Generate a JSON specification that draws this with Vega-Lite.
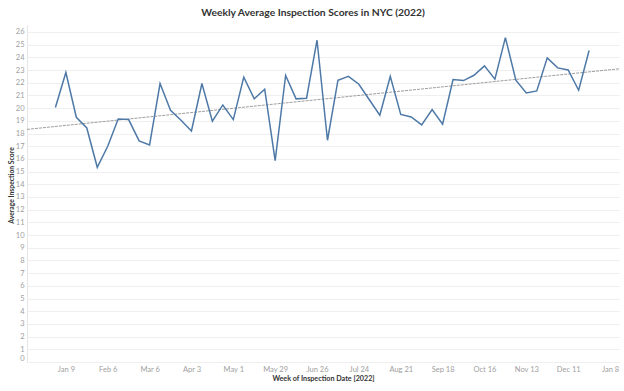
{
  "$schema": "https://vega.github.io/schema/vega-lite/v6.json",
  "width": 592,
  "height": 337,
  "autosize": {"type": "none"},
  "padding": {"left": 27, "top": 25, "right": 5, "bottom": 29},
  "background": "white",
  "title": {
    "text": "Weekly Average Inspection Scores in NYC (2022)",
    "font": "Lato",
    "fontSize": 10.3,
    "fontWeight": "bold",
    "color": "#333333",
    "anchor": "middle",
    "dx": -10,
    "offset": 7
  },
  "data": {
    "format": {"parse": {"date": "date"}},
    "values": [
      {"date": "2022-01-02", "score": 20.05},
      {"date": "2022-01-09", "score": 22.81},
      {"date": "2022-01-16", "score": 19.28},
      {"date": "2022-01-23", "score": 18.44},
      {"date": "2022-01-30", "score": 15.34},
      {"date": "2022-02-06", "score": 17.0},
      {"date": "2022-02-13", "score": 19.15},
      {"date": "2022-02-20", "score": 19.1},
      {"date": "2022-02-27", "score": 17.42},
      {"date": "2022-03-06", "score": 17.1},
      {"date": "2022-03-13", "score": 21.94},
      {"date": "2022-03-20", "score": 19.83},
      {"date": "2022-03-27", "score": 19.05},
      {"date": "2022-04-03", "score": 18.2},
      {"date": "2022-04-10", "score": 21.94},
      {"date": "2022-04-17", "score": 18.97},
      {"date": "2022-04-24", "score": 20.25},
      {"date": "2022-05-01", "score": 19.1},
      {"date": "2022-05-08", "score": 22.44},
      {"date": "2022-05-15", "score": 20.73},
      {"date": "2022-05-22", "score": 21.49},
      {"date": "2022-05-29", "score": 15.87},
      {"date": "2022-06-05", "score": 22.57},
      {"date": "2022-06-12", "score": 20.73},
      {"date": "2022-06-19", "score": 20.78},
      {"date": "2022-06-26", "score": 25.35},
      {"date": "2022-07-03", "score": 17.47},
      {"date": "2022-07-10", "score": 22.2},
      {"date": "2022-07-17", "score": 22.51},
      {"date": "2022-07-24", "score": 21.88},
      {"date": "2022-07-31", "score": 20.66},
      {"date": "2022-08-07", "score": 19.44},
      {"date": "2022-08-14", "score": 22.51},
      {"date": "2022-08-21", "score": 19.5},
      {"date": "2022-08-28", "score": 19.31},
      {"date": "2022-09-04", "score": 18.68},
      {"date": "2022-09-11", "score": 19.89},
      {"date": "2022-09-18", "score": 18.73},
      {"date": "2022-09-25", "score": 22.25},
      {"date": "2022-10-02", "score": 22.17},
      {"date": "2022-10-09", "score": 22.59},
      {"date": "2022-10-16", "score": 23.33},
      {"date": "2022-10-23", "score": 22.28},
      {"date": "2022-10-30", "score": 25.56},
      {"date": "2022-11-06", "score": 22.2},
      {"date": "2022-11-13", "score": 21.2},
      {"date": "2022-11-20", "score": 21.36},
      {"date": "2022-11-27", "score": 23.96},
      {"date": "2022-12-04", "score": 23.17},
      {"date": "2022-12-11", "score": 23.01},
      {"date": "2022-12-18", "score": 21.41},
      {"date": "2022-12-25", "score": 24.54}
    ]
  },
  "encoding": {
    "x": {
      "field": "date",
      "type": "temporal",
      "scale": {"type": "utc", "domain": [1639440000000, 1673654400000], "nice": false},
      "axis": {
        "title": "Week of Inspection Date [2022]",
        "values": [1641686400000, 1644105600000, 1646524800000, 1648944000000, 1651363200000, 1653782400000, 1656201600000, 1658620800000, 1661040000000, 1663459200000, 1665878400000, 1668297600000, 1670716800000, 1673136000000],
        "format": "%b %-d",
        "grid": false,
        "ticks": false,
        "domain": false,
        "labelFont": "Lato",
        "labelFontSize": 7.5,
        "labelColor": "#a0a0a0",
        "labelPadding": 3,
        "titleFont": "Lato",
        "titleFontSize": 7.2,
        "titleFontWeight": "bold",
        "titleColor": "#333333",
        "titlePadding": 2
      }
    },
    "y": {
      "field": "score",
      "type": "quantitative",
      "scale": {"domain": [0, 26.55], "nice": false, "zero": true},
      "axis": {
        "title": "Average Inspection Score",
        "values": [0,1,2,3,4,5,6,7,8,9,10,11,12,13,14,15,16,17,18,19,20,21,22,23,24,25,26],
        "grid": true,
        "gridColor": "#efefef",
        "gridWidth": 1,
        "ticks": false,
        "domain": true,
        "domainColor": "#e6e6e6",
        "labelFlush": true,
        "labelFont": "Lato",
        "labelFontSize": 7.5,
        "labelColor": "#a0a0a0",
        "labelPadding": 3,
        "titleFont": "Lato",
        "titleFontSize": 6.8,
        "titleFontWeight": "bold",
        "titleColor": "#333333",
        "titlePadding": 1,
        "titleY": 160
      }
    }
  },
  "layer": [
    {
      "transform": [
        {"regression": "score", "on": "date", "extent": [1639440000000, 1673654400000]}
      ],
      "mark": {"type": "line", "color": "#9e9e9e", "strokeWidth": 1, "strokeDash": [3, 1], "clip": true}
    },
    {
      "mark": {"type": "line", "color": "#4e79a7", "strokeWidth": 1.5}
    }
  ],
  "config": {"view": {"stroke": null}}
}
